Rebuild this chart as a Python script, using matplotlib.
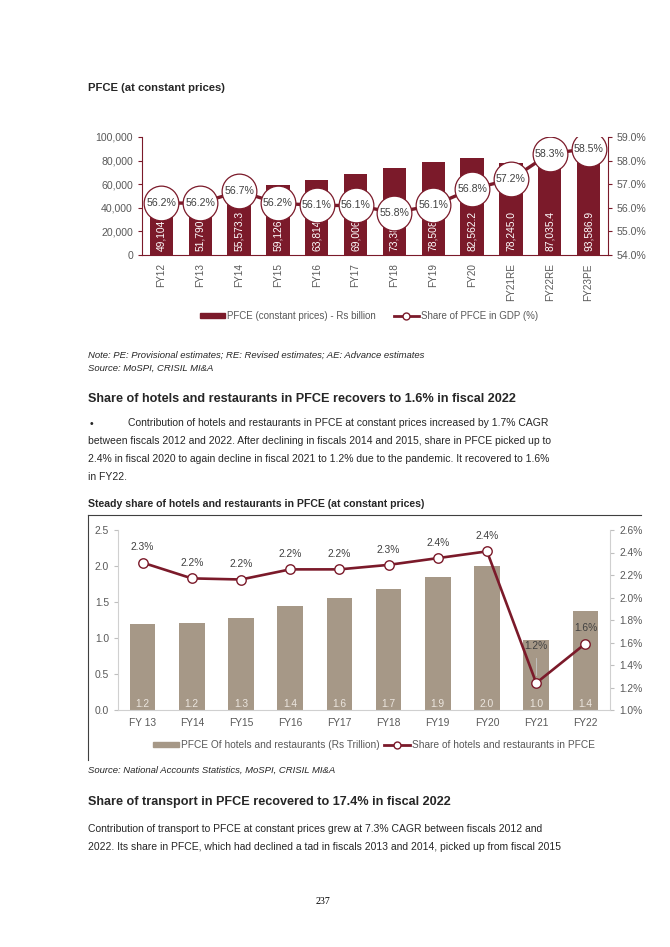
"""Page render: PFCE at constant prices + hotels & restaurants share (p. 237)."""
import matplotlib

matplotlib.use("Agg")
import matplotlib.pyplot as plt  # noqa: E402
from matplotlib.lines import Line2D  # noqa: E402
from matplotlib.patches import Patch  # noqa: E402
import numpy as np  # noqa: E402

plt.rcParams["font.family"] = ["Liberation Sans", "DejaVu Sans"]

# ---- data -------------------------------------------------------------------
pfce_years = ["FY12", "FY13", "FY14", "FY15", "FY16", "FY17", "FY18", "FY19",
              "FY20", "FY21RE", "FY22RE", "FY23PE"]
pfce_values = [49104, 51790, 55573.3, 59126, 63814, 69006, 73389, 78508,
               82562.2, 78245.0, 87035.4, 93586.9]
pfce_labels = ["49,104", "51,790", "55,573.3", "59,126", "63,814", "69,006",
               "73,389", "78,508", "82,562.2", "78,245.0", "87,035.4", "93,586.9"]
pfce_share = [56.2, 56.2, 56.7, 56.2, 56.1, 56.1, 55.8, 56.1, 56.8, 57.2, 58.3, 58.5]

hr_years = ["FY 13", "FY14", "FY15", "FY16", "FY17", "FY18", "FY19", "FY20",
            "FY21", "FY22"]
hr_values = [1.20, 1.21, 1.28, 1.44, 1.56, 1.68, 1.85, 2.00, 0.97, 1.38]
hr_share = [2.31, 2.17, 2.16, 2.25, 2.25, 2.29, 2.35, 2.41, 1.24, 1.59]

MAROON = "#7b1a2a"
TAUPE = "#a69887"
GREY = "#595959"
TXT = "#262626"

W, H = 670, 947


def fx(x):
    return x / W


def fy(y):
    return 1 - y / H


fig = plt.figure(figsize=(6.7, 9.47), dpi=100)


def put(x, y, s, **kw):
    kw.setdefault("fontsize", 7.45)
    kw.setdefault("color", TXT)
    fig.text(fx(x), fy(y), s, va="center", ha=kw.pop("ha", "left"), **kw)


# ---- page text --------------------------------------------------------------
put(88, 88, "PFCE (at constant prices)", fontsize=8.1, fontweight="bold")
put(88, 355, "Note: PE: Provisional estimates; RE: Revised estimates; AE: Advance estimates",
    fontsize=6.8, style="italic")
put(88, 368, "Source: MoSPI, CRISIL MI&A", fontsize=6.8, style="italic")
put(88, 399, "Share of hotels and restaurants in PFCE recovers to 1.6% in fiscal 2022",
    fontsize=9.1, fontweight="bold")
put(90, 424, "\u2022", fontsize=7.5)
put(128, 423, "Contribution of hotels and restaurants in PFCE at constant prices increased by 1.7% CAGR")
put(88, 441, "between fiscals 2012 and 2022. After declining in fiscals 2014 and 2015, share in PFCE picked up to")
put(88, 459, "2.4% in fiscal 2020 to again decline in fiscal 2021 to 1.2% due to the pandemic. It recovered to 1.6%")
put(88, 477, "in FY22.")
put(88, 504, "Steady share of hotels and restaurants in PFCE (at constant prices)",
    fontsize=7.6, fontweight="bold")
put(88, 770, "Source: National Accounts Statistics, MoSPI, CRISIL MI&A",
    fontsize=6.8, style="italic")
put(88, 802, "Share of transport in PFCE recovered to 17.4% in fiscal 2022",
    fontsize=9.1, fontweight="bold")
put(88, 829, "Contribution of transport to PFCE at constant prices grew at 7.3% CAGR between fiscals 2012 and")
put(88, 847, "2022. Its share in PFCE, which had declined a tad in fiscals 2013 and 2014, picked up from fiscal 2015")
put(323, 901, "237", ha="center", fontsize=7.2, family=["Liberation Serif"], color="black")

# ---- chart 1: PFCE ----------------------------------------------------------
ax = fig.add_axes([fx(142), fy(255), fx(608) - fx(142), fy(137) - fy(255)])
x = np.arange(len(pfce_years))
ax.bar(x, pfce_values, 0.6, color=MAROON, zorder=2)
for xi, lab in zip(x, pfce_labels):
    ax.text(xi, 3500, lab, rotation=90, ha="center", va="bottom",
            color="white", fontsize=7.4, zorder=3)
ax.set_xlim(-0.5, len(x) - 0.5)
ax.set_ylim(0, 100000)
ax.set_yticks(range(0, 100001, 20000))
ax.set_yticklabels([f"{v:,}" for v in range(0, 100001, 20000)])
ax.set_xticks(x)
ax.set_xticklabels(pfce_years, rotation=90)
ax.tick_params(axis="x", length=0, pad=6, labelsize=7.2, labelcolor=GREY)
ax.tick_params(axis="y", length=3, color=MAROON, labelsize=7.6, labelcolor=GREY)
for s in ["top", "right"]:
    ax.spines[s].set_visible(False)
for s in ["left", "bottom"]:
    ax.spines[s].set_color(MAROON)

ax2 = ax.twinx()
ax2.plot(x, pfce_share, color=MAROON, lw=2.4, marker="o", ms=25,
         mfc="white", mec=MAROON, mew=0.9, zorder=4)
for xi, v in zip(x, pfce_share):
    ax2.text(xi, v, f"{v:.1f}%", ha="center", va="center", fontsize=7.6,
             color="#404040", zorder=5)
ax2.set_ylim(54, 59)
ax2.set_yticks(np.arange(54, 59.01, 1))
ax2.set_yticklabels([f"{v:.1f}%" for v in np.arange(54, 59.01, 1)])
ax2.tick_params(axis="y", length=3, color=MAROON, labelsize=7.6, labelcolor=GREY)
for s in ["top", "left", "bottom"]:
    ax2.spines[s].set_visible(False)
ax2.spines["right"].set_color(MAROON)

fig.legend(
    handles=[Patch(color=MAROON, label="PFCE (constant prices) - Rs billion"),
             Line2D([], [], color=MAROON, lw=2, marker="o", ms=5, mfc="white",
                    mec=MAROON, label="Share of PFCE in GDP (%)")],
    loc="center", bbox_to_anchor=(fx(369), fy(316)), ncol=2, frameon=False,
    fontsize=7.0, handlelength=2.6, handleheight=0.5, columnspacing=1.8,
    handletextpad=0.2, labelcolor=GREY)

# ---- chart 2: hotels & restaurants -----------------------------------------
bx = fig.add_axes([fx(118), fy(710), fx(610) - fx(118), fy(530) - fy(710)])
x2 = np.arange(len(hr_years))
bx.bar(x2, hr_values, 0.52, color=TAUPE, zorder=2)
for xi, v in zip(x2, hr_values):
    bx.text(xi, 0.09, f"{v:.1f}", ha="center", va="center", fontsize=7.4,
            color="#ece6df", zorder=3)
bx.set_xlim(-0.5, len(x2) - 0.5)
bx.set_ylim(0, 2.5)
bx.set_yticks(np.arange(0, 2.51, 0.5))
bx.set_yticklabels([f"{v:.1f}" for v in np.arange(0, 2.51, 0.5)])
bx.set_xticks(x2)
bx.set_xticklabels(hr_years)
bx.tick_params(axis="x", length=0, pad=6, labelsize=7.4, labelcolor=GREY)
bx.tick_params(axis="y", length=3, color="#bfbfbf", labelsize=7.4, labelcolor=GREY)
for s in ["top", "right"]:
    bx.spines[s].set_visible(False)
for s in ["left", "bottom"]:
    bx.spines[s].set_color("#d0d0d0")

bx2 = bx.twinx()
bx2.plot(x2, hr_share, color=MAROON, lw=1.9, marker="o", ms=6.8,
         mfc="white", mec=MAROON, mew=1.0, zorder=4)
for i, (xi, v) in enumerate(zip(x2, hr_share)):
    dy = 11
    if i == len(x2) - 2:
        dy = 27
        bx2.plot([xi, xi], [v + 0.07, v + 0.22], color="#c8c8c8", lw=0.6)
    bx2.annotate(f"{v:.1f}%", (xi, v), xytext=(0, dy), textcoords="offset points",
                 ha="center", va="center", fontsize=7.4, color="#404040", zorder=5)
bx2.set_ylim(1.0, 2.6)
bx2.set_yticks(np.arange(1.0, 2.61, 0.2))
bx2.set_yticklabels([f"{v:.1f}%" for v in np.arange(1.0, 2.61, 0.2)])
bx2.tick_params(axis="y", length=3, color="#bfbfbf", labelsize=7.4, labelcolor=GREY)
for s in ["top", "left", "bottom"]:
    bx2.spines[s].set_visible(False)
bx2.spines["right"].set_color("#d0d0d0")

fig.legend(
    handles=[Patch(color=TAUPE, label="PFCE Of hotels and restaurants (Rs Trillion)"),
             Line2D([], [], color=MAROON, lw=2, marker="o", ms=5, mfc="white",
                    mec=MAROON, label="Share of hotels and restaurants in PFCE")],
    loc="center", bbox_to_anchor=(fx(374), fy(745)), ncol=2, frameon=False,
    fontsize=7.3, handlelength=2.6, handleheight=0.5, columnspacing=0.4,
    handletextpad=0.2, labelcolor=GREY)

# chart frame (top + left edges only, as on the page)
fig.add_artist(Line2D([fx(88), fx(641)], [fy(515), fy(515)], color="#404040", lw=0.8))
fig.add_artist(Line2D([fx(88), fx(88)], [fy(515), fy(760)], color="#404040", lw=0.8))

fig.savefig("out.png", dpi=100, facecolor="white")
